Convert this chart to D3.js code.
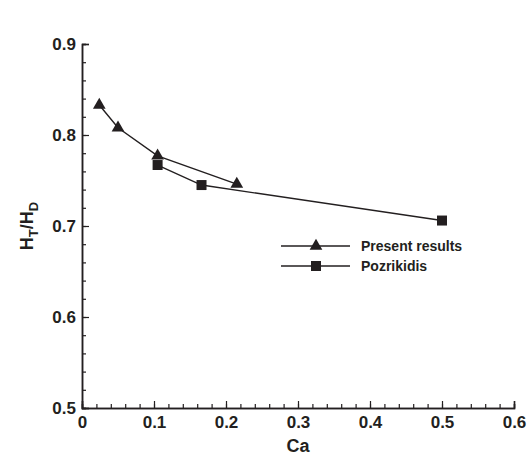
<!DOCTYPE html>
<html>
<head>
<meta charset="utf-8">
<script src="https://cdn.jsdelivr.net/npm/d3@7"></script>
<style>
  body { margin: 0; background: #fff; }
  text { font-family: "Liberation Sans", Arial, sans-serif; font-weight: bold; fill: #231f20; }
</style>
</head>
<body>
<div id="chart"></div>
<script>
// data
const presentCa = [0.024, 0.05, 0.105, 0.215];
const presentHt = [0.833, 0.808, 0.777, 0.746];
const pozCa = [0.105, 0.166, 0.5];
const pozHt = [0.767, 0.745, 0.706];
const xTicks = [0, 0.1, 0.2, 0.3, 0.4, 0.5, 0.6];
const yTicks = [0.5, 0.6, 0.7, 0.8, 0.9];
const seriesNames = ["Present results", "Pozrikidis"];

const width = 528, height = 461;
const margin = { top: 44, right: 14, bottom: 53, left: 82 };

const svg = d3.select("#chart").append("svg")
  .attr("width", width)
  .attr("height", height);

const x = d3.scaleLinear().domain([0, 0.6]).range([margin.left, width - margin.right]);
const y = d3.scaleLinear().domain([0.5, 0.9]).range([height - margin.bottom, margin.top]);

const ink = "#231f20";

// minor ticks every 0.02
const minorX = d3.range(0, 0.6001, 0.02);
const minorY = d3.range(0.5, 0.9001, 0.02);

const xAxis = svg.append("g")
  .attr("transform", `translate(0,${y(0.5)})`);
xAxis.call(d3.axisBottom(x).tickValues(minorX).tickSize(-4).tickFormat(""));
xAxis.call(g => g.append("g").call(d3.axisBottom(x).tickValues(xTicks).tickSize(-7).tickPadding(8).tickFormat(d3.format("~g"))));
xAxis.selectAll("path.domain").attr("stroke", ink).attr("stroke-width", 1.5);
xAxis.selectAll(".tick line").attr("stroke", ink).attr("stroke-width", 1.2);
xAxis.selectAll(".tick text").style("font-size", "17px");

const yAxis = svg.append("g")
  .attr("transform", `translate(${x(0)},0)`);
yAxis.call(d3.axisLeft(y).tickValues(minorY).tickSize(-4).tickFormat(""));
yAxis.call(g => g.append("g").call(d3.axisLeft(y).tickValues(yTicks).tickSize(-7).tickPadding(6).tickFormat(d3.format(".1f"))));
yAxis.selectAll("path.domain").attr("stroke", ink).attr("stroke-width", 1.5);
yAxis.selectAll(".tick line").attr("stroke", ink).attr("stroke-width", 1.2);
yAxis.selectAll(".tick text").style("font-size", "17px");

// axis titles
svg.append("text")
  .attr("x", x(0.3))
  .attr("y", height - 9)
  .attr("text-anchor", "middle")
  .style("font-size", "18px")
  .text("Ca");

const yl = svg.append("text")
  .attr("transform", `translate(33,${y(0.7)}) rotate(-90)`)
  .attr("text-anchor", "middle")
  .style("font-size", "18px");
yl.append("tspan").text("H");
yl.append("tspan").attr("dy", 5).style("font-size", "13px").text("T");
yl.append("tspan").attr("dy", -5).text("/H");
yl.append("tspan").attr("dy", 5).style("font-size", "13px").text("D");

const line = d3.line().x(d => x(d[0])).y(d => y(d[1]));
const present = presentCa.map((c, i) => [c, presentHt[i]]);
const poz = pozCa.map((c, i) => [c, pozHt[i]]);

svg.append("path").datum(present).attr("d", line)
  .attr("fill", "none").attr("stroke", ink).attr("stroke-width", 1.4);
svg.append("path").datum(poz).attr("d", line)
  .attr("fill", "none").attr("stroke", ink).attr("stroke-width", 1.4);

const tri = d3.symbol().type(d3.symbolTriangle).size(70);
const sq = d3.symbol().type(d3.symbolSquare).size(100);

svg.selectAll(".tri").data(present).enter().append("path")
  .attr("d", tri)
  .attr("transform", d => `translate(${x(d[0])},${y(d[1])})`)
  .attr("fill", ink);
svg.selectAll(".sq").data(poz).enter().append("path")
  .attr("d", sq)
  .attr("transform", d => `translate(${x(d[0])},${y(d[1])})`)
  .attr("fill", ink);

// legend
const legend = svg.append("g");
const symbols = [tri, sq];
seriesNames.forEach((name, i) => {
  const ly = 246 + i * 20;
  legend.append("line")
    .attr("x1", 281).attr("x2", 350)
    .attr("y1", ly).attr("y2", ly)
    .attr("stroke", ink).attr("stroke-width", 1.4);
  legend.append("path")
    .attr("d", symbols[i])
    .attr("transform", `translate(316,${ly})`)
    .attr("fill", ink);
  legend.append("text")
    .attr("x", 361).attr("y", ly)
    .attr("dy", "0.35em")
    .style("font-size", "14px")
    .text(name);
});
</script>
</body>
</html>
